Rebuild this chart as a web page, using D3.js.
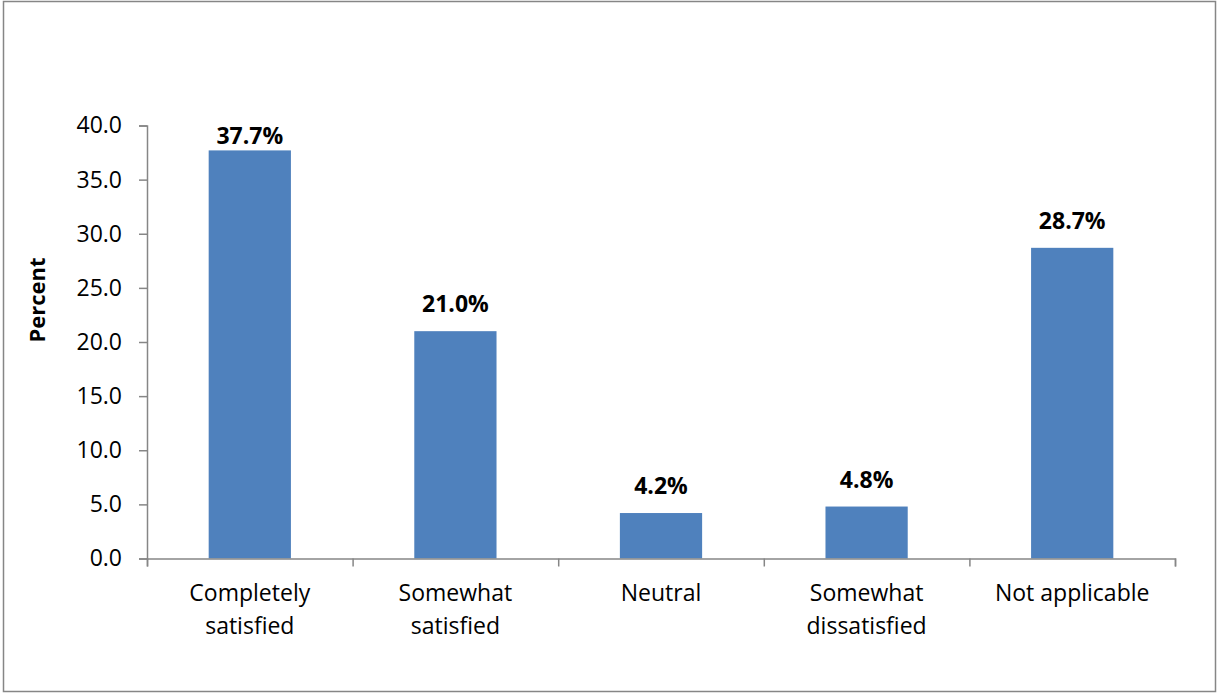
<!DOCTYPE html>
<html>
<head>
<meta charset="utf-8">
<script src="https://cdn.jsdelivr.net/npm/d3@7"></script>
<style>
  html, body { margin: 0; padding: 0; background: #fff; }
  svg text { font-family: "Open Sans", sans-serif; fill: #000; }
</style>
</head>
<body>
<svg id="chart" width="1217" height="694"></svg>
<script>
// Satisfaction responses, percent of respondents
const categories = [
  ["Completely", "satisfied"],
  ["Somewhat", "satisfied"],
  ["Neutral"],
  ["Somewhat", "dissatisfied"],
  ["Not applicable"]
];
const values = [37.7, 21.0, 4.2, 4.8, 28.7];
const yTicks = [0, 5, 10, 15, 20, 25, 30, 35, 40];

const svg = d3.select("#chart");
const plot = { left: 147, right: 1175, top: 125.5, bottom: 558.5 };
const axisColor = "#868686";
const fontFamily = "'Open Sans', sans-serif";

// outer frame
svg.append("rect")
  .attr("x", 3.5).attr("y", 1.5)
  .attr("width", 1212).attr("height", 690)
  .attr("fill", "#fff").attr("stroke", axisColor).attr("stroke-width", 1.5);

const keys = categories.map((c, i) => i);
const x = d3.scaleBand().domain(keys).range([plot.left, plot.right]).paddingInner(0.6).paddingOuter(0.3);
const xEdges = d3.scaleLinear().domain([0, categories.length]).range([plot.left, plot.right]);
const y = d3.scaleLinear().domain([0, 40]).range([plot.bottom, plot.top]);

// bars
svg.append("g").selectAll("rect")
  .data(values)
  .join("rect")
  .attr("x", (d, i) => x(i))
  .attr("width", x.bandwidth())
  .attr("y", d => y(d))
  .attr("height", d => y(0) - y(d))
  .attr("fill", "#4f81bd");

// y axis
const yAxis = svg.append("g")
  .attr("transform", `translate(${plot.left},0)`)
  .call(d3.axisLeft(y).tickValues(yTicks).tickFormat(d3.format(".1f")).tickSize(8).tickPadding(17));
yAxis.select(".domain").attr("stroke", axisColor).attr("stroke-width", 1.5);
yAxis.selectAll(".tick line").attr("stroke", axisColor).attr("stroke-width", 1.5);
yAxis.selectAll(".tick text")
  .style("font-size", "23px").style("font-family", fontFamily)
  .attr("fill", "#000");

// x axis baseline with ticks at category boundaries
const xAxis = svg.append("g")
  .attr("transform", `translate(0,${plot.bottom})`)
  .call(d3.axisBottom(xEdges).tickValues(d3.range(categories.length + 1)).tickSize(8).tickFormat(""));
xAxis.select(".domain").attr("stroke", axisColor).attr("stroke-width", 1.5);
xAxis.selectAll(".tick line").attr("stroke", axisColor).attr("stroke-width", 1.5);

// category labels
const catG = svg.append("g");
categories.forEach((lines, i) => {
  const cx = x(i) + x.bandwidth() / 2;
  const t = catG.append("text")
    .attr("x", cx)
    .attr("y", 601)
    .attr("text-anchor", "middle")
    .style("font-size", "23px");
  lines.forEach((line, j) => {
    t.append("tspan")
      .attr("x", cx)
      .attr("dy", j === 0 ? 0 : 33)
      .text(line);
  });
});

// value labels
svg.append("g").selectAll("text")
  .data(values)
  .join("text")
  .attr("x", (d, i) => x(i) + x.bandwidth() / 2)
  .attr("y", d => Math.max(y(d) - 19, plot.top + 18))
  .attr("text-anchor", "middle")
  .style("font-size", "23px")
  .style("font-weight", "bold")
  .text(d => d3.format(".1f")(d) + "%");

// y axis title
svg.append("text")
  .attr("transform", `translate(45,300) rotate(-90)`)
  .attr("text-anchor", "middle")
  .style("font-size", "22px")
  .style("font-weight", "bold")
  .text("Percent");
</script>
</body>
</html>
